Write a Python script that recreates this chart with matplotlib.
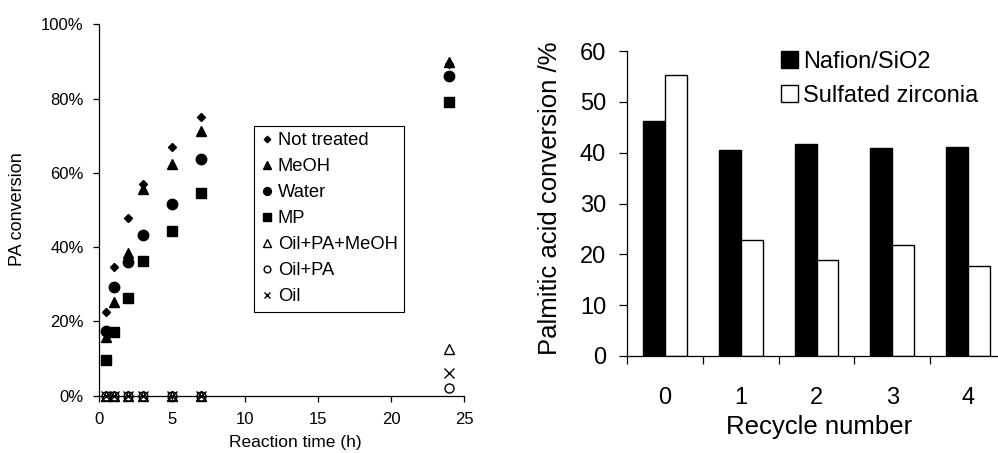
import matplotlib
matplotlib.use("Agg")
import matplotlib.pyplot as plt
from matplotlib.ticker import FuncFormatter, MultipleLocator
import numpy as np

plt.rcParams['font.family'] = ['Liberation Sans', 'DejaVu Sans']

# ---- left panel: conversion vs. reaction time ----
time_h = [0.5, 1, 2, 3, 5, 7, 24]
not_treated = [22.6, 34.6, 47.8, 57.1, 66.9, 75.0, 89.3]
meoh = [15.7, 25.3, 38.3, 55.7, 62.4, 71.4, 89.8]
water = [17.4, 29.2, 36.1, 43.4, 51.7, 63.7, 86.1]
mp = [9.6, 17.1, 26.2, 36.3, 44.3, 54.7, 79.2]
oil_pa_meoh = [0, 0, 0, 0, 0, 0, 12.5]
oil_pa = [0, 0, 0, 0, 0, 0, 2.0]
oil = [0, 0, 0, 0, 0, 0, 6.2]

series_labels = ["Not treated", "MeOH", "Water", "MP", "Oil+PA+MeOH", "Oil+PA", "Oil"]

# ---- right panel: catalyst recycling ----
recycle = ["0", "1", "2", "3", "4"]
nafion = [46.3, 40.6, 41.7, 40.9, 41.1]
sulfated = [55.2, 22.8, 18.9, 21.8, 17.8]

W, H = 998, 453
fig = plt.figure(figsize=(W / 100, H / 100), dpi=100)


def fx(px):
    return px / W


def fy(py):
    return 1 - py / H


ax1 = fig.add_axes([fx(99), fy(395.7), fx(365), 371.4 / H])
ax2 = fig.add_axes([fx(627), fy(356), fx(379), 305 / H])

styles = [
    dict(marker='D', ms=4.4, mfc='black', mec='black'),
    dict(marker='^', ms=7.5, mfc='black', mec='black'),
    dict(marker='o', ms=7.5, mfc='black', mec='black'),
    dict(marker='s', ms=7.0, mfc='black', mec='black'),
    dict(marker='^', ms=7.5, mfc='none', mec='black', mew=1.0),
    dict(marker='o', ms=6.5, mfc='none', mec='black', mew=1.0),
    dict(marker='x', ms=6.5, mfc='none', mec='black', mew=1.0),
]
all_series = [not_treated, meoh, water, mp, oil_pa_meoh, oil_pa, oil]
for vals, lab, st in zip(all_series, series_labels, styles):
    ax1.plot(time_h, vals, linestyle='none', label=lab, clip_on=False, **st)

ax1.set_xlim(0, 25)
ax1.set_ylim(0, 100)
ax1.xaxis.set_major_locator(MultipleLocator(5))
ax1.yaxis.set_major_locator(MultipleLocator(20))
ax1.yaxis.set_major_formatter(FuncFormatter(lambda v, p: f"{v:.0f}%"))
for s in ['top', 'right']:
    ax1.spines[s].set_visible(False)
for s in ['left', 'bottom']:
    ax1.spines[s].set_linewidth(0.9)
ax1.tick_params(axis='x', direction='out', length=4, width=0.9, pad=8, labelsize=12)
ax1.tick_params(axis='y', direction='out', length=4, width=0.9, pad=7, labelsize=12)

leg1 = ax1.legend(loc='upper left', bbox_to_anchor=(fx(254), fy(126)),
                  bbox_transform=fig.transFigure, frameon=True, fancybox=False,
                  edgecolor='black', framealpha=1, borderaxespad=0, borderpad=0.35,
                  labelspacing=0.49, handlelength=0.7, handletextpad=0.25,
                  markerscale=0.75, fontsize=13.2)
leg1.get_frame().set_linewidth(0.8)

fig.text(fx(17.7), fy(209.2), "PA conversion", rotation=90, ha='center', va='center', fontsize=13)
fig.text(fx(295), fy(443), "Reaction time (h)", ha='center', va='center', fontsize=12.5)

# ---- bars ----
x = np.arange(len(recycle))
bw = 0.29
ax2.bar(x - bw / 2, nafion, width=bw, color='black', edgecolor='black', linewidth=1.0,
        label="Nafion/SiO2")
ax2.bar(x + bw / 2, sulfated, width=bw, color='white', edgecolor='black', linewidth=1.0,
        label="Sulfated zirconia")
ax2.set_xlim(-0.5, len(recycle) - 0.5)
ax2.set_ylim(0, 60)
ax2.yaxis.set_major_locator(MultipleLocator(10))
ax2.set_xticks(np.arange(-0.5, len(recycle), 1.0))
ax2.set_xticklabels([])
ax2.set_xticks(x, minor=True)
ax2.set_xticklabels(recycle, minor=True)
for s in ['top', 'right']:
    ax2.spines[s].set_visible(False)
for s in ['left', 'bottom']:
    ax2.spines[s].set_linewidth(0.9)
ax2.tick_params(axis='x', which='major', direction='out', length=6, width=0.9)
ax2.tick_params(axis='x', which='minor', length=0, pad=22, labelsize=17)
ax2.tick_params(axis='y', direction='out', length=6, width=0.9, pad=9, labelsize=17)

h2, l2 = ax2.get_legend_handles_labels()
leg2 = fig.legend(h2, l2, loc='upper left', bbox_to_anchor=(fx(781), fy(51)),
                  frameon=False, borderaxespad=0, borderpad=0, labelspacing=0.5,
                  handlelength=0.72, handleheight=0.72, handletextpad=0.2, fontsize=17)

fig.text(fx(549.7), fy(198.3), "Palmitic acid conversion /%", rotation=90,
         ha='center', va='center', fontsize=18.5)
fig.text(fx(819.5), fy(426.7), "Recycle number", ha='center', va='center', fontsize=18.5)

fig.savefig("out.png", dpi=100)
